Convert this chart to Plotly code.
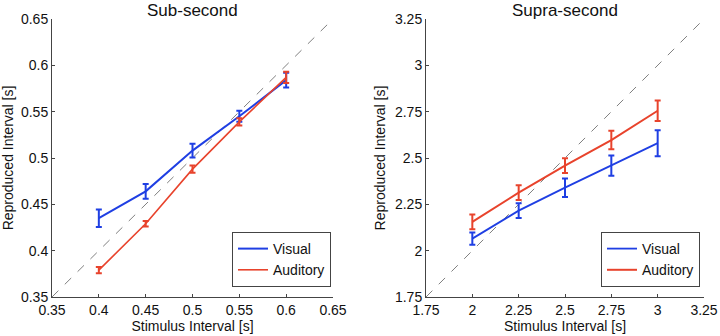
import plotly.graph_objects as go

# ---- data ----
sub_x = [0.4, 0.45, 0.5, 0.55, 0.6]
sub_visual = [0.435, 0.464, 0.508, 0.545, 0.584]
sub_visual_err = [0.0095, 0.008, 0.0075, 0.006, 0.008]
sub_auditory = [0.379, 0.429, 0.488, 0.539, 0.587]
sub_auditory_err = [0.0035, 0.003, 0.004, 0.004, 0.006]

supra_x = [2.0, 2.25, 2.5, 2.75, 3.0]
supra_visual = [2.065, 2.216, 2.340, 2.459, 2.580]
supra_visual_err = [0.033, 0.04, 0.05, 0.055, 0.07]
supra_auditory = [2.155, 2.313, 2.459, 2.597, 2.755]
supra_auditory_err = [0.04, 0.04, 0.04, 0.05, 0.055]

sub_ticks = [0.35, 0.4, 0.45, 0.5, 0.55, 0.6, 0.65]
sub_ticklabels = ["0.35", "0.4", "0.45", "0.5", "0.55", "0.6", "0.65"]
supra_ticks = [1.75, 2.0, 2.25, 2.5, 2.75, 3.0, 3.25]
supra_ticklabels = ["1.75", "2", "2.25", "2.5", "2.75", "3", "3.25"]

sub_range = [0.35, 0.65]
supra_range = [1.75, 3.25]

BLUE = "#1f3fe3"
RED = "#e8432c"
FONT = "Liberation Sans, Arial, sans-serif"

fig = go.Figure()

# identity lines
fig.add_trace(go.Scatter(x=sub_range, y=sub_range, mode="lines",
                         line=dict(color="#808080", width=1, dash="dash"),
                         showlegend=False, xaxis="x", yaxis="y", hoverinfo="skip"))
fig.add_trace(go.Scatter(x=supra_range, y=supra_range, mode="lines",
                         line=dict(color="#808080", width=1, dash="dash"),
                         showlegend=False, xaxis="x2", yaxis="y2", hoverinfo="skip"))

def add(x, y, e, color, name, xa, ya, legend, w):
    fig.add_trace(go.Scatter(
        x=x, y=y, mode="lines", name=name,
        line=dict(color=color, width=w),
        error_y=dict(type="data", array=e, visible=True, color=color,
                     thickness=2, width=3),
        xaxis=xa, yaxis=ya, legend=legend))

add(sub_x, sub_visual, sub_visual_err, BLUE, "Visual", "x", "y", "legend", 2)
add(sub_x, sub_auditory, sub_auditory_err, RED, "Auditory", "x", "y", "legend", 1.6)
add(supra_x, supra_visual, supra_visual_err, BLUE, "Visual", "x2", "y2", "legend2", 1.8)
add(supra_x, supra_auditory, supra_auditory_err, RED, "Auditory", "x2", "y2", "legend2", 2)

axis_common = dict(showline=True, linecolor="#444", linewidth=1, ticks="inside",
                   ticklen=3, tickcolor="#444", showgrid=False, zeroline=False,
                   automargin=False,
                   tickfont=dict(size=14, color="#111", family=FONT),
                   title_font=dict(size=14, color="#111", family=FONT))

ydom = [1 - 297 / 336, 1 - 19 / 336]

fig.update_layout(
    width=720, height=336,
    margin=dict(l=0, r=0, t=0, b=0),
    paper_bgcolor="white", plot_bgcolor="white",
    font=dict(family=FONT, color="#111"),
    xaxis=dict(domain=[52 / 720, 333 / 720], range=sub_range, tickvals=sub_ticks,
               ticktext=sub_ticklabels, anchor="y",
               title=dict(text="Stimulus Interval [s]", standoff=4), **axis_common),
    yaxis=dict(domain=ydom, range=sub_range, tickvals=sub_ticks,
               ticktext=sub_ticklabels, anchor="x",
               title=dict(text="Reproduced Interval [s]", standoff=6), **axis_common),
    xaxis2=dict(domain=[426 / 720, 704 / 720], range=supra_range, tickvals=supra_ticks,
                ticktext=supra_ticklabels, anchor="y2",
                title=dict(text="Stimulus Interval [s]", standoff=4), **axis_common),
    yaxis2=dict(domain=ydom, range=supra_range, tickvals=supra_ticks,
                ticktext=supra_ticklabels, anchor="x2",
                title=dict(text="Reproduced Interval [s]", standoff=6), **axis_common),
    legend=dict(x=331 / 720, y=1 - 232 / 336, xanchor="right", yanchor="top",
                bgcolor="white", bordercolor="#444", borderwidth=1,
                font=dict(size=14, family=FONT, color="#111"), tracegroupgap=0),
    legend2=dict(x=700 / 720, y=1 - 232 / 336, xanchor="right", yanchor="top",
                 bgcolor="white", bordercolor="#444", borderwidth=1,
                 font=dict(size=14, family=FONT, color="#111"), tracegroupgap=0),
    annotations=[
        dict(text="Sub-second", x=(52 + 333) / 2 / 720, y=1 - 11 / 336, xref="paper",
             yref="paper", showarrow=False, font=dict(size=17, family=FONT, color="#111"),
             xanchor="center", yanchor="middle"),
        dict(text="Supra-second", x=(426 + 704) / 2 / 720, y=1 - 11 / 336, xref="paper",
             yref="paper", showarrow=False, font=dict(size=17, family=FONT, color="#111"),
             xanchor="center", yanchor="middle"),
    ],
)

fig.write_html("out.html", config={"displayModeBar": False},
               post_script="document.body.style.margin='0';document.body.style.overflow='hidden';")
